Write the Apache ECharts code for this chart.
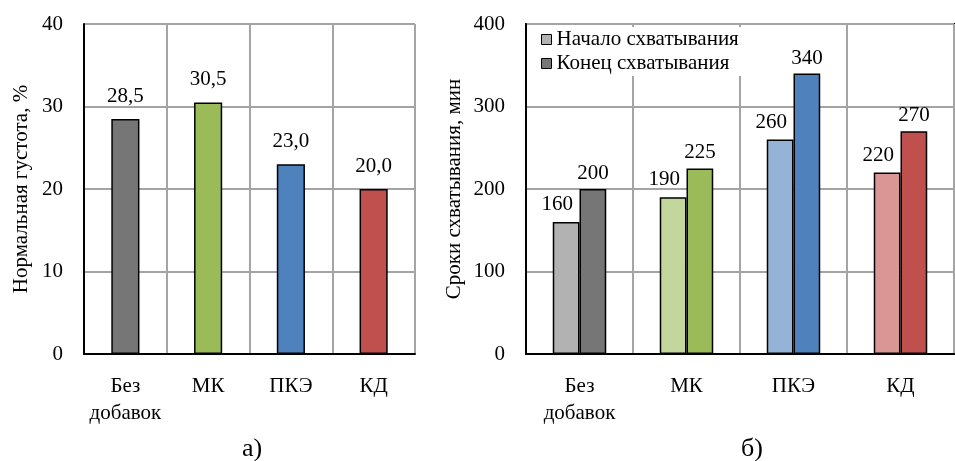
<!DOCTYPE html>
<html><head><meta charset="utf-8">
<script src="https://cdn.jsdelivr.net/npm/echarts@6/dist/echarts.min.js"></script>
<style>html,body{margin:0;padding:0;background:#fff}#c{width:955px;height:461px}</style>
</head><body><div id="c"></div>
<script>
const categories = ['Без\nдобавок', 'МК', 'ПКЭ', 'КД'];
const consistency = [28.5, 30.5, 23.0, 20.0];
const setStart = [160, 190, 260, 220];
const setEnd = [200, 225, 340, 270];
const colorsDark = ['#767676', '#9BBB59', '#4F81BD', '#C0504D'];
const colorsLight = ['#B2B2B2', '#C3D69B', '#95B3D7', '#D99694'];
const leftTicks = [0, 10, 20, 30, 40];
const rightTicks = [0, 100, 200, 300, 400];
const seriesNames = ['Начало схватывания', 'Конец схватывания'];
const yNames = ['Нормальная густота, %', 'Сроки схватывания, мин'];
const panelLabels = ['а)', 'б)'];

const FONT = "'Liberation Serif', 'Times New Roman', serif";
const txt = {color: '#000', fontFamily: FONT, fontSize: 21};
const GRID_LINE = {color: '#A4A4A4', width: 2};
const chart = echarts.init(document.getElementById('c'));

function xAxis(gi) {
  return {
    type: 'category', gridIndex: gi, data: categories,
    axisLine: {show: true, lineStyle: {color: '#000', width: 2}},
    axisTick: {show: false},
    axisLabel: Object.assign({}, txt, {margin: 19, lineHeight: 27, interval: 0}),
    splitLine: {show: true, interval: 0, lineStyle: GRID_LINE}
  };
}
function yAxis(gi, ticks, name, gap) {
  return {
    type: 'value', gridIndex: gi, min: ticks[0], max: ticks[ticks.length - 1],
    interval: ticks[1] - ticks[0],
    name: name, nameLocation: 'middle', nameGap: gap,
    nameTextStyle: Object.assign({}, txt),
    axisLine: {show: true, lineStyle: {color: '#000', width: 2}},
    axisTick: {show: false},
    axisLabel: Object.assign({}, txt, {margin: 21}),
    splitLine: {show: true, lineStyle: GRID_LINE}
  };
}

const option = {
  animation: false,
  backgroundColor: '#fff',
  grid: [
    {left: 84, top: 24, width: 331, height: 330},
    {left: 526, top: 24, width: 428, height: 330, show: true, borderColor: '#000', borderWidth: 2, backgroundColor: 'transparent'}
  ],
  xAxis: [xAxis(0), xAxis(1)],
  yAxis: [yAxis(0, leftTicks, yNames[0], 52), yAxis(1, rightTicks, yNames[1], 61)],
  legend: {
    data: seriesNames, orient: 'vertical', left: 537, top: 27,
    icon: 'rect',
    itemWidth: 10, itemHeight: 10, itemGap: 3, padding: [2, 4, 2, 4],
    backgroundColor: '#fff',
    textStyle: Object.assign({}, txt, {fontSize: 21}),
    itemStyle: {borderColor: '#000', borderWidth: 1}
  },
  series: [
    {
      type: 'bar', xAxisIndex: 0, yAxisIndex: 0, barWidth: '34%',
      data: consistency.map((v, i) => ({value: v, itemStyle: {color: colorsDark[i]}})),
      itemStyle: {borderColor: '#000', borderWidth: 1.5},
      label: Object.assign({show: true, position: 'top', distance: 12,
        formatter: p => p.value.toFixed(1).replace('.', ',')}, txt)
    },
    {
      name: seriesNames[0], type: 'bar', xAxisIndex: 1, yAxisIndex: 1,
      barGap: '0%', barCategoryGap: '50%',
      data: setStart.map((v, i) => ({value: v, itemStyle: {color: colorsLight[i]}})),
      itemStyle: {color: '#B2B2B2', borderColor: '#000', borderWidth: 1.5},
      label: Object.assign({show: true, position: 'top', distance: 7, offset: [-9, 0]}, txt)
    },
    {
      name: seriesNames[1], type: 'bar', xAxisIndex: 1, yAxisIndex: 1,
      barGap: '0%', barCategoryGap: '50%',
      data: setEnd.map((v, i) => ({value: v, itemStyle: {color: colorsDark[i]}})),
      itemStyle: {color: '#767676', borderColor: '#000', borderWidth: 1.5},
      label: Object.assign({show: true, position: 'top', distance: 5}, txt)
    }
  ],
  graphic: [
    {type: 'text', left: 242, top: 436, style: {text: panelLabels[0], fill: '#000', font: "26px " + FONT}},
    {type: 'text', left: 741, top: 436, style: {text: panelLabels[1], fill: '#000', font: "26px " + FONT}}
  ]
};
chart.setOption(option);
</script></body></html>
